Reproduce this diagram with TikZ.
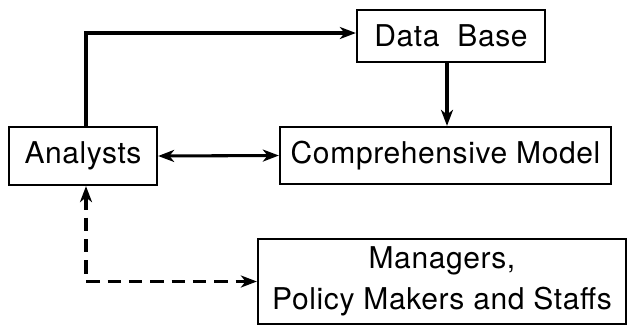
\documentclass[tikz,border=0pt]{standalone}
\usepackage{fontspec}
\setmainfont{TeX Gyre Heros}[LetterSpace=2]
\usetikzlibrary{arrows.meta}

\tikzset{every picture/.style={line width=0.75pt}}
\tikzset{
  blk/.style={draw, line width=1.7pt, inner sep=0pt, align=center, font=\fontsize{22.5}{31}\selectfont},
  flow/.style={line width=2.3pt, -{Stealth[length=12pt,width=9pt,inset=3.5pt]}},
  flowboth/.style={line width=2.3pt, {Stealth[length=12pt,width=9pt,inset=3.5pt]}-{Stealth[length=12pt,width=9pt,inset=3.5pt]}},
}

\begin{document}
\begin{tikzpicture}[x=0.75pt,y=0.75pt,yscale=-1,xscale=1]
	\useasboundingbox (0,0) rectangle (629,326);
	
	%Shape: Rectangle [Analysts]
	\node [blk, minimum width=148*0.75pt, minimum height=58*0.75pt] (an) at (83,156) {Analysts};
	%Shape: Rectangle [Data Base]
	\node [blk, minimum width=188*0.75pt, minimum height=52*0.75pt] (db) at (451,36) {Data\ \ Base};
	%Shape: Rectangle [Comprehensive Model]
	\node [blk, minimum width=331*0.75pt, minimum height=57*0.75pt] (cm) at (445.5,155.5) {Comprehensive Model};
	%Shape: Rectangle [Managers]
	\node [blk, minimum width=368*0.75pt, minimum height=85*0.75pt] (mg) at (442,281.5) {Managers,\\Policy Makers and Staffs};
	
	\draw [flow] ([xshift=3*0.75pt]an.north) |- ([yshift=-3*0.75pt]db.west);
	\draw [flow] ([xshift=-4*0.75pt]db.south) -- ([xshift=-4*0.75pt]db.south |- cm.north);
	\draw [flowboth] (an.east) -- (cm.west);
	\draw [flowboth, dash pattern=on 10pt off 6pt] ([xshift=3*0.75pt]an.south) |- (mg.west);
	
\end{tikzpicture}
\end{document}
